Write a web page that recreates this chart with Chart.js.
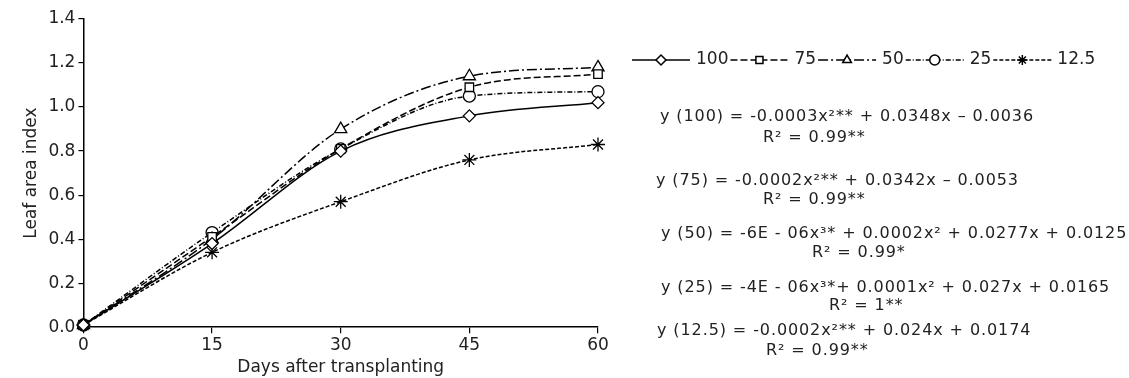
<!DOCTYPE html>
<html>
<head>
<meta charset="utf-8">
<script src="https://cdn.jsdelivr.net/npm/chart.js@4"></script>
<style>
  body { margin: 0; background: #fff; }
  #wrap { position: relative; width: 1129px; height: 378px; }
  .eq { position: absolute; font: 16px "DejaVu Sans", sans-serif; letter-spacing: 0.9px; color: #222; white-space: nowrap; line-height: 18px; }
</style>
</head>
<body>
<div id="wrap">
  <canvas id="chart" width="1129" height="378"></canvas>
  <div class="eq" style="left:660px;top:107px">y (100) = -0.0003x²** + 0.0348x – 0.0036</div>
  <div class="eq" style="left:763px;top:128px">R² = 0.99**</div>
  <div class="eq" style="left:656px;top:171px">y (75) = -0.0002x²** + 0.0342x – 0.0053</div>
  <div class="eq" style="left:763px;top:190px">R² = 0.99**</div>
  <div class="eq" style="left:661px;top:224px">y (50) = -6E - 06x³* + 0.0002x² + 0.0277x + 0.0125</div>
  <div class="eq" style="left:812px;top:243px">R² = 0.99*</div>
  <div class="eq" style="left:661px;top:278px">y (25) = -4E - 06x³*+ 0.0001x² + 0.027x + 0.0165</div>
  <div class="eq" style="left:829px;top:296px">R² = 1**</div>
  <div class="eq" style="left:657px;top:321px">y (12.5) = -0.0002x²** + 0.024x + 0.0174</div>
  <div class="eq" style="left:766px;top:341px">R² = 0.99**</div>
</div>
<script>
// dias após o transplante e índice de área foliar por tratamento
var days = [0, 15, 30, 45, 60];
var lai100 = [0.01, 0.38, 0.80, 0.96, 1.02];
var lai75 = [0.01, 0.41, 0.81, 1.09, 1.15];
var lai50 = [0.01, 0.40, 0.90, 1.14, 1.18];
var lai25 = [0.01, 0.43, 0.81, 1.05, 1.07];
var lai125 = [0.01, 0.34, 0.57, 0.76, 0.83];
var labels = ["100", "75", "50", "25", "12.5"];

function serie(label, values, style, dash, radius) {
  return {
    label: label,
    data: days.map(function (d, i) { return { x: d, y: values[i] }; }),
    borderColor: "#000",
    backgroundColor: "#fff",
    borderWidth: 1.5,
    borderDash: dash,
    pointStyle: style,
    pointRadius: radius,
    pointBorderWidth: 1.3,
    pointBorderColor: "#000",
    pointBackgroundColor: "#fff",
    cubicInterpolationMode: "monotone",
    clip: false,
  };
}

// legenda com linha + marcador
var legendaLinha = {
  id: "legendaLinha",
  afterDraw: function (chart) {
    var ctx = chart.ctx;
    var x = 632, y = 60;
    ctx.save();
    ctx.font = '17px "DejaVu Sans"';
    ctx.textBaseline = "middle";
    chart.data.datasets.forEach(function (ds) {
      ctx.strokeStyle = "#000";
      ctx.lineWidth = 1.5;
      ctx.setLineDash(ds.borderDash);
      ctx.beginPath();
      ctx.moveTo(x, y);
      ctx.lineTo(x + 58, y);
      ctx.stroke();
      ctx.setLineDash([]);
      ctx.fillStyle = "#fff";
      Chart.helpers.drawPoint(ctx, { pointStyle: ds.pointStyle, radius: 5, borderWidth: 1.5, rotation: 0 }, x + 29, y);
      ctx.fillStyle = "#222";
      ctx.fillText(ds.label, x + 64, y);
      x += 64 + ctx.measureText(ds.label).width + 2;
    });
    ctx.restore();
  },
};

var ctx = document.getElementById("chart").getContext("2d");
ctx.letterSpacing = "1px";
Chart.defaults.font.family = '"DejaVu Sans", sans-serif';
Chart.defaults.font.size = 17;
Chart.defaults.color = "#222";

var chart = new Chart(ctx, {
  type: "line",
  data: {
    datasets: [
      serie(labels[0], lai100, "rectRot", [], 6),
      serie(labels[1], lai75, "rect", [7, 3], 6),
      serie(labels[2], lai50, "triangle", [10, 3, 2, 3], 7),
      serie(labels[3], lai25, "circle", [5, 2, 1, 2], 6),
      serie(labels[4], lai125, "star", [4, 2], 7),
    ],
  },
  options: {
    responsive: false,
    animation: false,
    layout: { padding: { left: 17, right: 531, top: 19, bottom: 0 } },
    plugins: { legend: { display: false }, tooltip: { enabled: false } },
    scales: {
      x: {
        type: "linear",
        min: 0,
        max: 60,
        ticks: { stepSize: 15, padding: 2 },
        grid: { drawOnChartArea: false, color: "#000", tickLength: 6, lineWidth: 1.2 },
        border: { color: "#000", width: 1.5 },
        title: { display: true, text: "Days after transplanting", padding: 0 },
      },
      y: {
        min: 0,
        max: 1.4,
        ticks: { stepSize: 0.2, padding: 3, callback: function (v) { return v.toFixed(1); } },
        grid: { drawOnChartArea: false, color: "#000", tickLength: 5, lineWidth: 1.2 },
        border: { color: "#000", width: 1.5 },
        title: { display: true, text: "Leaf area index", padding: 4 },
      },
    },
  },
  plugins: [legendaLinha],
});
</script>
</body>
</html>
